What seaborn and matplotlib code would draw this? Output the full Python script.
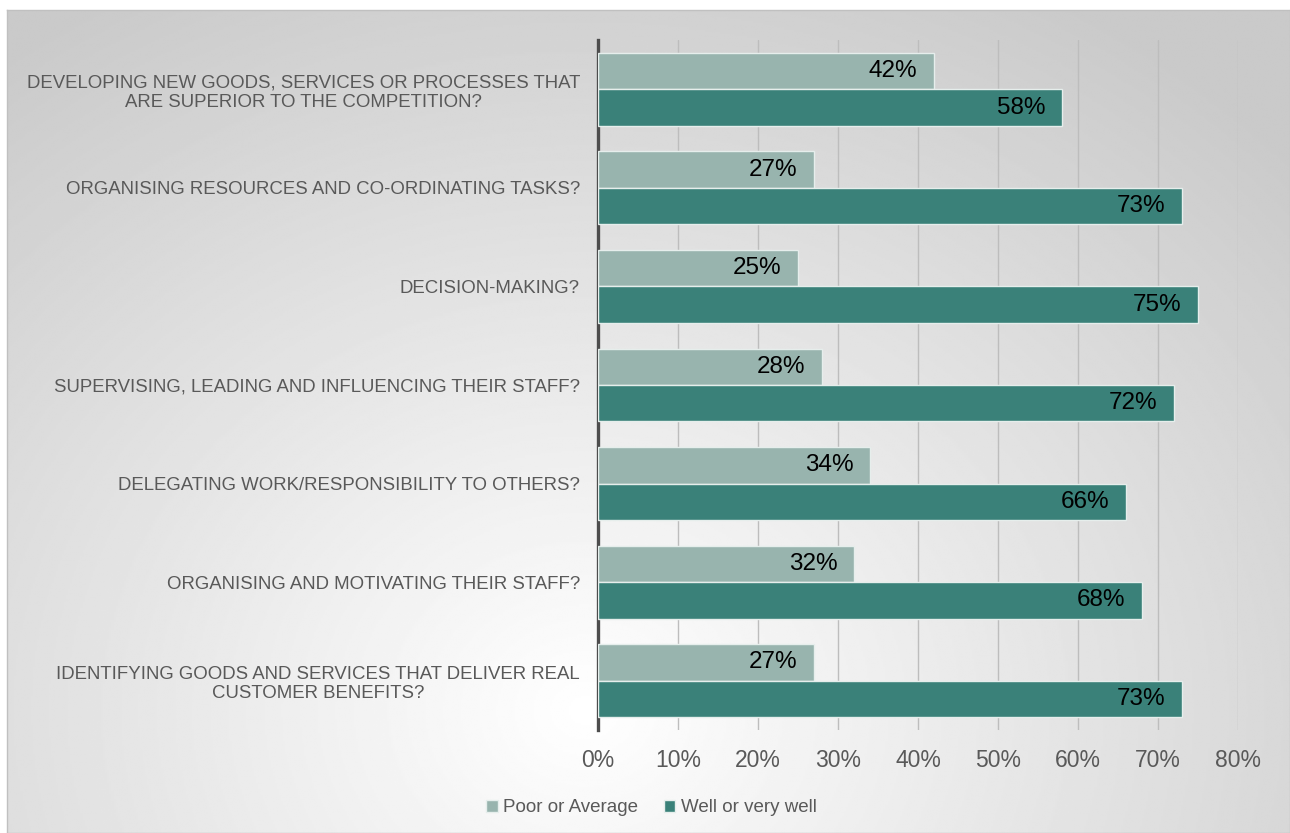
import numpy as np
import pandas as pd
import seaborn as sns
import matplotlib.pyplot as plt
from matplotlib.patches import Patch

categories = [
    "DEVELOPING NEW GOODS, SERVICES OR PROCESSES THAT\nARE SUPERIOR TO THE COMPETITION?",
    "ORGANISING RESOURCES AND CO-ORDINATING TASKS?",
    "DECISION-MAKING?",
    "SUPERVISING, LEADING AND INFLUENCING THEIR STAFF?",
    "DELEGATING WORK/RESPONSIBILITY TO OTHERS?",
    "ORGANISING AND MOTIVATING THEIR STAFF?",
    "IDENTIFYING GOODS AND SERVICES THAT DELIVER REAL\nCUSTOMER BENEFITS?",
]
series = ["Poor or Average", "Well or very well"]
poor = [42, 27, 25, 28, 34, 32, 27]
well = [58, 73, 75, 72, 66, 68, 73]
colors = {"Poor or Average": "#98b4ae", "Well or very well": "#3a8179"}

df = pd.DataFrame({
    "category": categories * 2,
    "series": [series[0]] * 7 + [series[1]] * 7,
    "value": poor + well,
})

sns.set_style("white")
plt.rcParams['font.family'] = ['Liberation Sans', 'DejaVu Sans']

fig = plt.figure(figsize=(12.9, 8.33), dpi=100)
fig.patch.set_facecolor("white")

# gradient background panel
bg = fig.add_axes([7 / 1290, 0, 1 - 7 / 1290, 1 - 10 / 833])
h, w = 400, 620
yy, xx = np.mgrid[0:h, 0:w]
cx, cy = 0.45 * w, 0.85 * h
r = np.sqrt(((xx - cx) / w) ** 2 + ((yy - cy) / h * 0.75) ** 2)
r = np.clip(r / 0.75, 0, 1)
shade = 1.0 - 0.21 * r
bg.imshow(shade, cmap="gray", vmin=0, vmax=1, aspect="auto", interpolation="bilinear")
bg.set_xticks([])
bg.set_yticks([])
for s in bg.spines.values():
    s.set_color("#c0c0c0")
    s.set_linewidth(1)
bg.set_zorder(0)

ax = fig.add_axes([598 / 1290, 1 - 730 / 833, 640 / 1290, 690 / 833])
ax.set_zorder(1)
ax.patch.set_alpha(0)

sns.barplot(data=df, y="category", x="value", hue="series", orient="h",
            palette=colors, width=0.74, gap=0, saturation=1,
            edgecolor="#e6eeec", linewidth=1, ax=ax, zorder=3)

ax.set_xlim(0, 80)
ax.set_xticks(np.arange(0, 81, 10))
ax.set_xticklabels([f"{t}%" for t in range(0, 81, 10)])
ax.grid(axis="x", color="#bdbdbd", linewidth=1, zorder=0)
ax.set_axisbelow(True)
ax.set_xlabel("")
ax.set_ylabel("")
for s in ["top", "right", "bottom"]:
    ax.spines[s].set_visible(False)
ax.spines["left"].set_color("#4d4d4d")
ax.spines["left"].set_linewidth(2.4)
ax.tick_params(axis="x", length=0, pad=14, labelsize=16.5, labelcolor="#595959")
ax.tick_params(axis="y", length=0, pad=13, labelsize=13.4, labelcolor="#595959")
for lab in ax.get_yticklabels():
    lab.set_multialignment("center")

for cont in ax.containers:
    for bar in cont:
        v = bar.get_width()
        ax.annotate(f"{v:.0f}%", (v, bar.get_y() + bar.get_height() / 2),
                    xytext=(-12, 0), textcoords="offset points",
                    ha="right", va="center", fontsize=17.5, color="black", zorder=5)

ax.get_legend().remove()
handles = [Patch(facecolor=colors[s], edgecolor="#e6eeec", label=s) for s in series]
fig.legend(handles=handles, loc="center", bbox_to_anchor=(0.505, 1 - 808 / 833),
           ncol=2, frameon=False, handlelength=0.6, handleheight=0.6,
           handletextpad=0.3, columnspacing=1.36, fontsize=13.5, labelcolor="#595959")

fig.savefig("out.png", dpi=100)
